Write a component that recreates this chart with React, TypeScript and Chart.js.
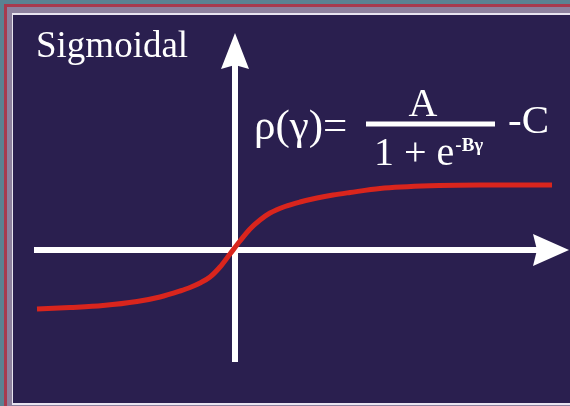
import React, { useEffect, useRef } from "react";
import { Chart, registerables } from "chart.js";

Chart.register(...registerables);

// Sigmoid curve (gamma on x, rho on y)
const gammaValues = [-3.96, -3.3, -2.64, -1.96, -1.5, -1.1, -0.9, -0.7, -0.5, -0.3, -0.1, 0.1, 0.3, 0.5, 0.7, 1.0, 1.3, 1.64, 1.96, 2.3, 2.9, 3.9, 4.9, 6.34];
const rhoValues = [-1.18, -1.15, -1.11, -1.03, -0.94, -0.82, -0.75, -0.66, -0.54, -0.34, -0.08, 0.18, 0.42, 0.6, 0.74, 0.87, 0.96, 1.04, 1.1, 1.15, 1.23, 1.284, 1.298, 1.3];

// Axis extents (data units): [from, arrow tip]
const xAxisExtent = [-4.02, 6.68];
const yAxisExtent = [-2.24, 4.34];

// Scale ranges
const xRange = [-4.7, 6.7];
const yRange = [-3.12, 5];

// Texts
const titleText = "Sigmoidal";
const lhsText = "ρ(γ)=";
const numeratorText = "A";
const denominatorText = "1 + e";
const exponentText = "-Bγ";
const tailText = "-C";

const SERIF = '"Liberation Serif", "Times New Roman", Times, serif';

const overlayPlugin = {
  id: "sigmoidOverlay",
  beforeDatasetsDraw(chart: any) {
    const { ctx, scales } = chart;
    const xs = scales.x;
    const ys = scales.y;
    const ox = xs.getPixelForValue(0);
    const oy = ys.getPixelForValue(0);
    const x0 = xs.getPixelForValue(xAxisExtent[0]);
    const x1 = xs.getPixelForValue(xAxisExtent[1]);
    const y0 = ys.getPixelForValue(yAxisExtent[0]);
    const y1 = ys.getPixelForValue(yAxisExtent[1]);
    ctx.save();
    ctx.fillStyle = "#ffffff";
    const t = 6;
    const headLen = 36;
    const notch = 4;
    // horizontal shaft
    ctx.fillRect(x0, oy - t / 2, x1 - headLen - x0 + notch, t);
    // horizontal head
    const hw = 16;
    ctx.beginPath();
    ctx.moveTo(x1, oy);
    ctx.lineTo(x1 - headLen, oy - hw);
    ctx.lineTo(x1 - headLen + notch, oy);
    ctx.lineTo(x1 - headLen, oy + hw);
    ctx.closePath();
    ctx.fill();
    // vertical shaft
    ctx.fillRect(ox - t / 2, y1 + headLen - notch, t, y0 - (y1 + headLen - notch));
    const vw = 14;
    ctx.beginPath();
    ctx.moveTo(ox, y1);
    ctx.lineTo(ox - vw, y1 + headLen);
    ctx.lineTo(ox, y1 + headLen - notch);
    ctx.lineTo(ox + vw, y1 + headLen);
    ctx.closePath();
    ctx.fill();

    // texts
    ctx.textBaseline = "alphabetic";
    ctx.textAlign = "left";
    ctx.font = `37px ${SERIF}`;
    ctx.fillText(titleText, 36, 57);

    ctx.font = `43px ${SERIF}`;
    ctx.fillText(lhsText, 254, 139);
    ctx.font = `40px ${SERIF}`;
    ctx.textAlign = "center";
    ctx.fillText(numeratorText, 423, 116);
    ctx.textAlign = "left";
    ctx.fillRect(366, 121.5, 129, 5);
    ctx.fillText(denominatorText, 374, 165);
    const dw = ctx.measureText(denominatorText).width;
    ctx.font = `41px ${SERIF}`;
    ctx.fillText(tailText, 508, 133);
    ctx.font = `bold 19px ${SERIF}`;
    ctx.fillText(exponentText, 374 + dw + 1, 151);
    ctx.restore();
  },
};

export default function App() {
  const ref = useRef<HTMLCanvasElement>(null);
  useEffect(() => {
    if (!ref.current) return;
    const chart = new Chart(ref.current, {
      type: "line",
      data: {
        datasets: [
          {
            data: gammaValues.map((g, i) => ({ x: g, y: rhoValues[i] })),
            borderColor: "#d9251d",
            borderWidth: 5,
            pointRadius: 0,
            cubicInterpolationMode: "monotone",
            fill: false,
          },
        ],
      },
      options: {
        responsive: false,
        animation: false,
        devicePixelRatio: 1,
        layout: { padding: 0 },
        plugins: { legend: { display: false }, tooltip: { enabled: false }, title: { display: false } },
        scales: {
          x: { type: "linear", min: xRange[0], max: xRange[1], display: false },
          y: { type: "linear", min: yRange[0], max: yRange[1], display: false },
        },
      },
      plugins: [overlayPlugin],
    });
    return () => chart.destroy();
  }, []);

  return (
    <div style={{ position: "fixed", left: 0, top: 0, width: 570, height: 406, background: "#5b8292", overflow: "hidden" }}>
      <div style={{ position: "absolute", left: 4, top: 4, width: 600, height: 440, background: "#a83a4e" }} />
      <div style={{ position: "absolute", left: 7, top: 7, width: 600, height: 440, background: "#8d819e" }} />
      <div style={{ position: "absolute", left: 12, top: 13, width: 600, height: 392, background: "#e8e4f0" }} />
      <div style={{ position: "absolute", left: 13, top: 15, width: 600, height: 388, background: "#2a1f4f" }} />
      <canvas ref={ref} width={570} height={406} style={{ position: "absolute", left: 0, top: 0 }} />
    </div>
  );
}
